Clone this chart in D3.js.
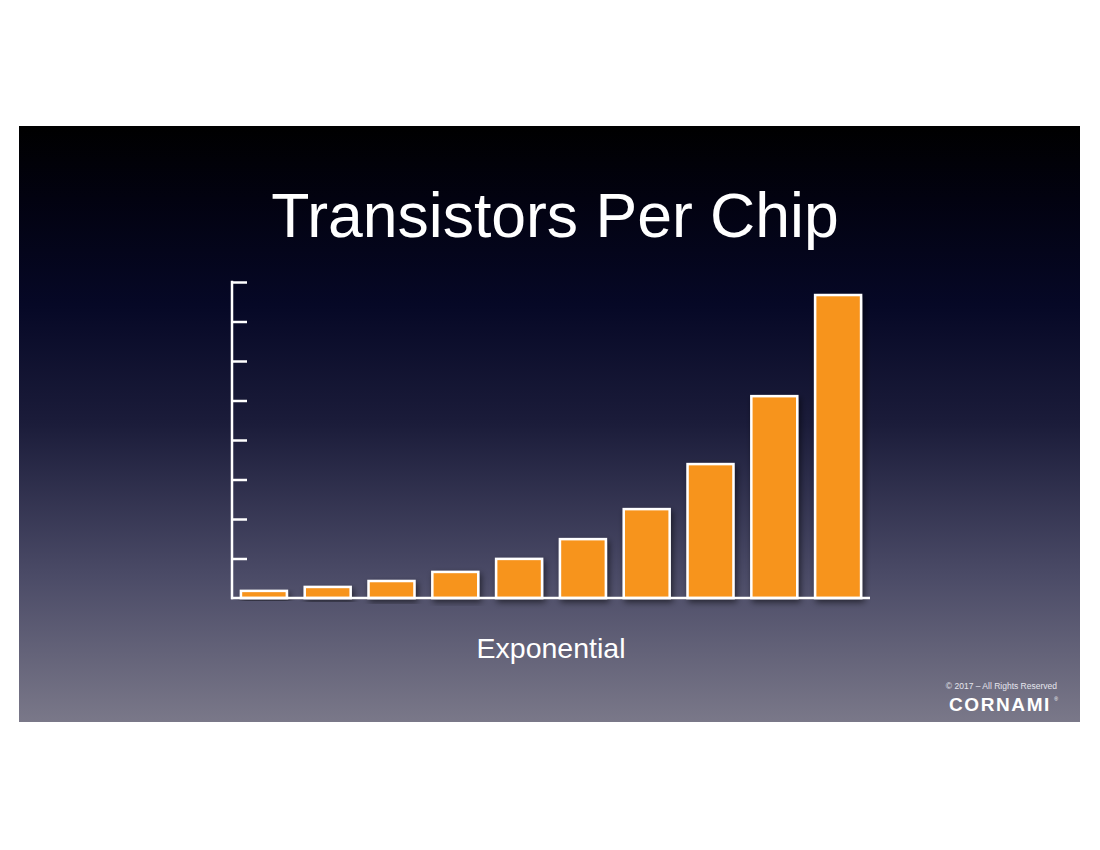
<!DOCTYPE html>
<html><head><meta charset="utf-8">
<script src="https://cdn.jsdelivr.net/npm/d3@7"></script>
<style>body{margin:0;background:#fff}svg{display:block}</style>
</head><body>
<script>
const categories = ["1","2","3","4","5","6","7","8","9","10"];
const values = [0.18, 0.28, 0.43, 0.66, 0.99, 1.49, 2.25, 3.39, 5.11, 7.67];
const tickValues = [0,1,2,3,4,5,6,7,8];
const title = "Transistors Per Chip";
const xLabel = "Exponential";

const W = 1100, H = 850;
const svg = d3.select("body").append("svg").attr("width", W).attr("height", H);
const defs = svg.append("defs");
const grad = defs.append("linearGradient").attr("id","bg").attr("x1",0).attr("y1",0).attr("x2",0).attr("y2",1);
[[0,"#000000"],[0.12,"#020210"],[0.3,"#060826"],[0.5,"#1b1c3a"],[0.75,"#4a4a66"],[1,"#7a7889"]].forEach(([o,c])=>grad.append("stop").attr("offset",o).attr("stop-color",c));
const f = defs.append("filter").attr("id","sh").attr("x","-20%").attr("y","-20%").attr("width","150%").attr("height","150%");
f.append("feDropShadow").attr("dx",2).attr("dy",3).attr("stdDeviation",3).attr("flood-color","#000").attr("flood-opacity",0.55);

svg.append("rect").attr("x",19).attr("y",126).attr("width",1061).attr("height",596).attr("fill","url(#bg)");

svg.append("text").attr("x",555).attr("y",237).attr("text-anchor","middle")
  .attr("font-family","Liberation Sans, Arial, sans-serif").attr("font-weight",300)
  .attr("font-size",62.5).attr("fill","#fff").text(title);

const x = d3.scaleBand().domain(categories).range([232, 870]).paddingInner(0.28).paddingOuter(0.14);
const y = d3.scaleLinear().domain([0,8]).range([598, 282]);

const g = svg.append("g");
g.selectAll("rect.bar").data(values).join("rect").attr("class","bar")
  .attr("x",(d,i)=>x(categories[i])).attr("width",x.bandwidth())
  .attr("y",d=>y(d)).attr("height",d=>y(0)-y(d))
  .attr("fill","#f7941e").attr("stroke","#fff").attr("stroke-width",2.5)
  .attr("filter","url(#sh)");

const yAxis = svg.append("g").attr("transform","translate(232,0)")
  .call(d3.axisRight(y).tickValues(tickValues).tickSize(15).tickFormat(""));
yAxis.select(".domain").remove();
yAxis.selectAll("line").attr("stroke","#fff").attr("stroke-width",2.5);
yAxis.selectAll(".tick").filter(d=>d===0).remove();
svg.append("line").attr("x1",232).attr("x2",232).attr("y1",y(8)-1.25).attr("y2",y(0)+1.25).attr("stroke","#fff").attr("stroke-width",2.5);
svg.append("line").attr("x1",231).attr("x2",870).attr("y1",y(0)).attr("y2",y(0)).attr("stroke","#fff").attr("stroke-width",2.5);

svg.append("text").attr("x",551).attr("y",658).attr("text-anchor","middle")
  .attr("font-family","Liberation Sans, Arial, sans-serif").attr("font-size",28.5).attr("fill","#fff").text(xLabel);

svg.append("text").attr("x",1057).attr("y",689).attr("text-anchor","end")
  .attr("font-family","Liberation Sans, Arial, sans-serif").attr("font-size",8.5).attr("fill","#e6e6ee").text("© 2017 – All Rights Reserved");
svg.append("text").attr("x",1051).attr("y",711).attr("text-anchor","end")
  .attr("font-family","Liberation Sans, Arial, sans-serif").attr("font-size",19).attr("font-weight","bold").attr("letter-spacing",1.6).attr("fill","#fff").text("CORNAMI");
svg.append("text").attr("x",1058).attr("y",701).attr("text-anchor","end")
  .attr("font-family","Liberation Sans, Arial, sans-serif").attr("font-size",5).attr("fill","#fff").text("®");
</script>
</body></html>
